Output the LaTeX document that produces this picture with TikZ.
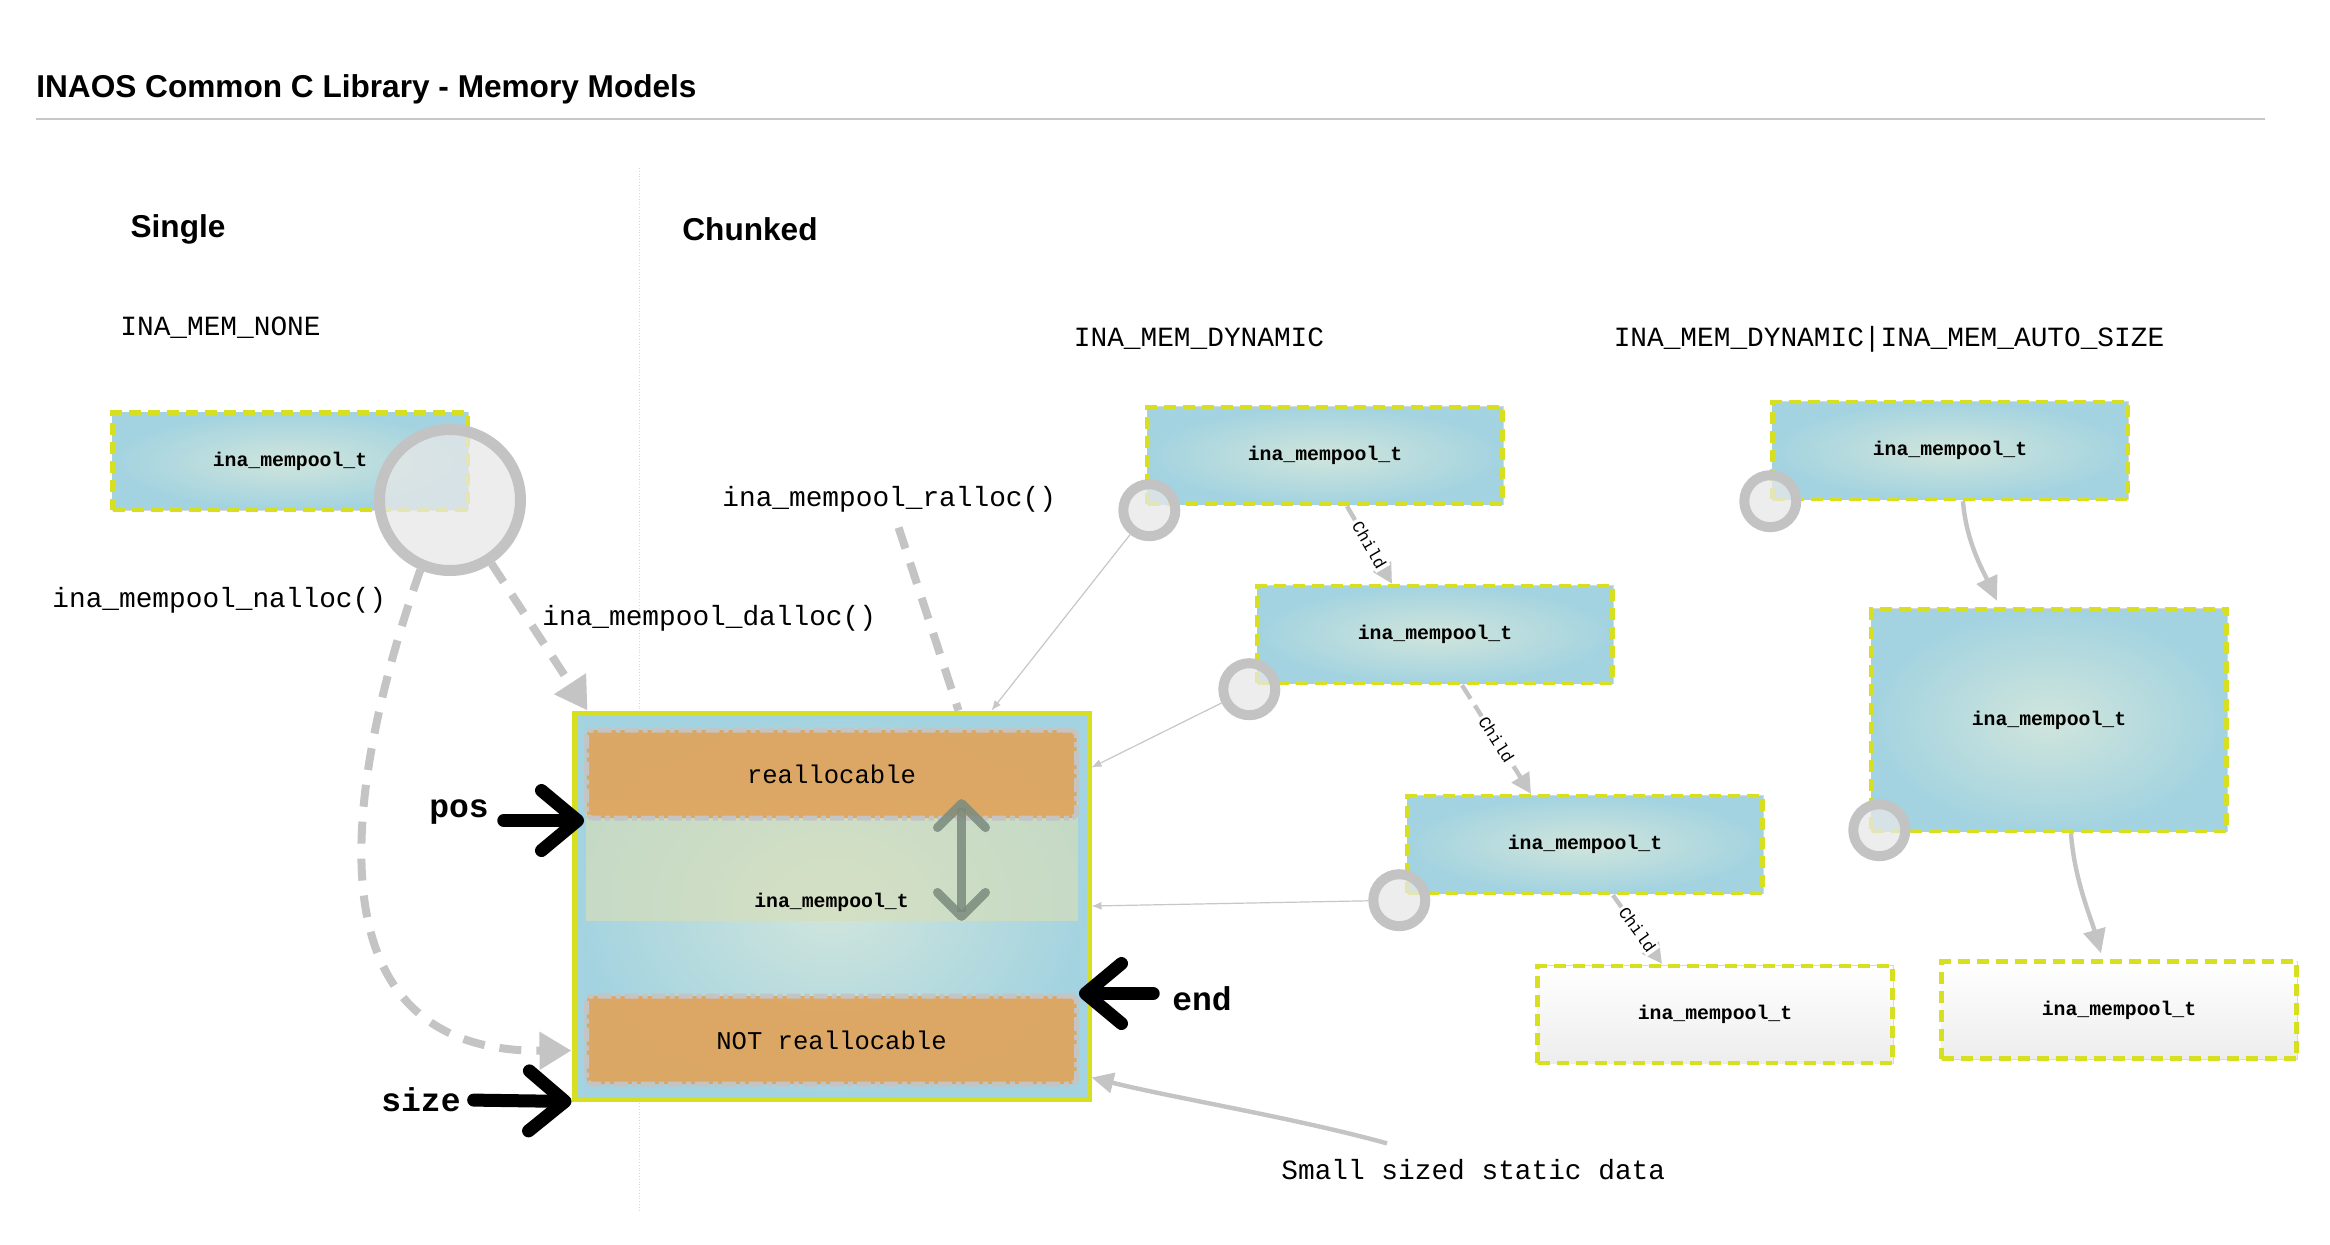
\documentclass[tikz,border=0pt]{standalone}
\usepackage{fontspec}
\setmainfont{Liberation Sans}
\setmonofont{Liberation Mono}
\usepackage{tikz}
\usetikzlibrary{shapes,arrows.meta}

\definecolor{poolblue}{RGB}{163,211,224}
\definecolor{poolcore}{RGB}{208,229,220}
\definecolor{poolyellow}{RGB}{215,223,33}
\definecolor{ringgray}{RGB}{195,195,195}
\definecolor{ringfill}{RGB}{232,232,232}
\definecolor{blockorange}{RGB}{223,165,95}
\definecolor{usedgreen}{RGB}{216,222,184}
\definecolor{arrowgray}{RGB}{196,196,196}
\definecolor{movegray}{RGB}{122,139,126}

\tikzstyle{heading} = [font=\bfseries\fontsize{15.8}{19}\selectfont, inner sep=0pt]
\tikzstyle{calltext} = [font=\ttfamily\fontsize{13.9}{16}\selectfont, inner sep=0pt, anchor=west]
\tikzstyle{ptrtag} = [font=\ttfamily\bfseries\fontsize{16.5}{18}\selectfont]
\tikzstyle{pool} = [rectangle, draw=poolyellow, line width=2.2pt, dash pattern=on 6pt off 3.5pt,
    preaction={draw=black!15, line width=1pt, solid}, inner color=poolcore, outer color=poolblue,
    minimum width=177.5pt, minimum height=48.5pt, inner sep=0pt,
    font=\ttfamily\bfseries\fontsize{9.9}{11}\selectfont]
\tikzstyle{bigpool} = [pool, minimum height=111pt]
\tikzstyle{freepool} = [pool, top color=white, bottom color=black!7]
\tikzstyle{ringnode} = [circle, draw=ringgray, fill=ringfill, fill opacity=0.75,
    line width=5pt, minimum size=26pt, inner sep=0pt]
\tikzstyle{bigring} = [ringnode, line width=5.5pt, minimum size=70.5pt]
\tikzstyle{heapbox} = [rectangle, draw=poolyellow, line width=2.5pt, inner color=poolcore,
    outer color=poolblue, minimum width=257.5pt, minimum height=193pt]
\tikzstyle{usedzone} = [rectangle, fill=usedgreen, fill opacity=0.65,
    minimum width=246pt, minimum height=60.5pt]
\tikzstyle{block} = [rectangle, draw=arrowgray, line width=2.5pt,
    dash pattern=on 7pt off 2pt on 2.5pt off 2pt, rounded corners=3pt, fill=blockorange,
    fill opacity=0.95, text opacity=1, minimum width=245pt, minimum height=44pt,
    font=\ttfamily\fontsize{12.8}{14}\selectfont]
\tikzstyle{callline} = [draw=arrowgray, line width=4pt, dash pattern=on 11pt off 7.5pt,
    -{Triangle[length=16pt,width=18pt]}]
\tikzstyle{childline} = [draw=arrowgray, line width=2.2pt, dash pattern=on 8pt off 4pt,
    -{Triangle[length=10pt,width=10pt]}]
\tikzstyle{childlbl} = [font=\ttfamily\fontsize{8.5}{9}\selectfont, fill=white, inner sep=1pt, sloped]
\tikzstyle{growline} = [draw=arrowgray, line width=2.2pt, -{Triangle[length=12pt,width=11pt]}]
\tikzstyle{staticline} = [draw=arrowgray, line width=2.2pt, -{Triangle[length=11pt,width=10pt]}]
\tikzstyle{linkline} = [draw=black!22, line width=0.6pt, -{Latex[length=5pt,width=4pt]}]
\tikzstyle{ptrline} = [draw, line width=6.5pt, line cap=round,
    -{Straight Barb[length=18pt,width=30pt,round]}]
\tikzstyle{moveline} = [draw=movegray, draw opacity=0.85, line width=4.5pt,
    {Straight Barb[length=12pt,width=24pt,round]}-{Straight Barb[length=12pt,width=24pt,round]}]

\begin{document}
\begin{tikzpicture}[x=0.5pt, y=-0.5pt]
   \fill[white] (0,0) rectangle (2330,1244);
   \useasboundingbox (0,0) rectangle (2330,1244);

   \node [heading, anchor=west] (title) at (36,89) {INAOS Common C Library - Memory Models};
   \draw [black!22, line width=1.3pt] (36,119) -- (2265,119);
   \draw [black!15, densely dotted] (639,168) -- (639,1211);

   \node [heading] (single) at (178,229) {Single};
   \node [heading, anchor=west] (chunked) at (682,229) {Chunked};
   \node [calltext] (none) at (120,328) {INA\_MEM\_NONE};
   \node [calltext, anchor=center] (dyn) at (1199,339) {INA\_MEM\_DYNAMIC};
   \node [calltext, anchor=center] (auto) at (1889,339) {INA\_MEM\_DYNAMIC|INA\_MEM\_AUTO\_SIZE};

   \node [pool] (s0) at (290,461) {ina\_mempool\_t};
   \node [bigring] (c0) at (450,500) {};

   \node [heapbox] (heap) at (831.5,906) {};
   \node [usedzone, above of=heap, node distance=23pt] (used) {};
   \node [font=\ttfamily\bfseries\fontsize{9.9}{11}\selectfont, above] (usedlbl)
      at ([yshift=1pt]used.south) {ina\_mempool\_t};
   \node [block, above of=heap, node distance=66pt] (realloc) {reallocable};
   \node [block, below of=heap, node distance=67pt] (fixed) {NOT reallocable};

   \node [calltext] (nalloc) at (52,600) {ina\_mempool\_nalloc()};
   \node [calltext] (dalloc) at (542,618) {ina\_mempool\_dalloc()};
   \node [calltext] (ralloc) at (722,499) {ina\_mempool\_ralloc()};
   \node [calltext] (ssd) at (1281,1170) {Small sized static data};
   \node [ptrtag] (lblpos) at (459,812) {pos};
   \node [ptrtag] (lblsize) at (421,1100) {size};
   \node [ptrtag] (lblend) at (1202,999) {end};

   \node [pool] (d1) at (1325,455.5) {ina\_mempool\_t};
   \node [pool, below of=d1, node distance=89.5pt, xshift=55pt] (d2) {ina\_mempool\_t};
   \node [pool, below of=d2, node distance=105pt, xshift=75pt] (d3) {ina\_mempool\_t};
   \node [freepool, below of=d3, node distance=85pt, xshift=65pt] (d4) {ina\_mempool\_t};
   \node [pool, right of=d1, node distance=312.5pt, yshift=2.5pt] (a1) {ina\_mempool\_t};
   \node [bigpool, below of=a1, node distance=134.75pt, xshift=49.5pt] (a2) {ina\_mempool\_t};
   \node [freepool, below of=a2, node distance=145pt, xshift=35pt] (a3) {ina\_mempool\_t};

   \node [ringnode] (cd1) at ([xshift=2pt,yshift=-2pt]d1.south west) {};
   \node [ringnode] (cd2) at ([xshift=-3pt,yshift=-2pt]d2.south west) {};
   \node [ringnode] (cd3) at ([xshift=-3pt,yshift=-2.5pt]d3.south west) {};
   \node [ringnode] (ca1) at (a1.south west) {};
   \node [ringnode] (ca2) at ([xshift=5pt,yshift=1.5pt]a2.south west) {};

   \path [callline] (c0) -- ([xshift=8pt]heap.north west);
   \path [callline] (c0.247) .. controls +(-80,228) and +(-262,2) .. ([yshift=25.5pt]heap.south west);
   \path [callline, arrows=-, shorten <=8pt] (ralloc) -- ([xshift=63.5pt]heap.north);

   \path [linkline] (cd1) -- ([xshift=-50pt]heap.north east);
   \path [linkline] (cd2) -- ([yshift=-28.5pt]heap.north east);
   \path [linkline] (cd3) -- (heap.east);

   \path [childline] ([xshift=11pt]d1.south) -- node [childlbl] {Child} ([xshift=-21.5pt]d2.north);
   \path [childline] ([xshift=13.5pt]d2.south) -- node [childlbl] {Child} ([xshift=-27pt]d3.north);
   \path [childline] ([xshift=14pt]d3.south) -- node [childlbl] {Child} ([xshift=-26.5pt]d4.north);

   \path [growline] ([xshift=6.5pt]a1.south) .. controls +(3,40) and +(-14,-30) ..
      ([xshift=-26pt,yshift=3pt]a2.north);
   \path [growline] ([xshift=11pt]a2.south) .. controls +(3,45) and +(-10,-35) ..
      ([xshift=-9pt,yshift=3pt]a3.north);

   \path [staticline] ([xshift=53pt,yshift=8pt]ssd.north west) .. controls +(-90,-25) and +(80,20) ..
      ([yshift=12pt]heap.south east);

   \path [moveline] ([xshift=65pt]used.north) -- ([xshift=65pt]used.south);
   \path [ptrline, shorten <=4pt] (lblpos.east |- realloc.south west) -- (realloc.south west);
   \path [ptrline, shorten <=3pt] (lblsize.east) -- (heap.south west);
   \path [ptrline, shorten <=6pt] (lblend.west |- fixed.north east) -- (fixed.north east);
\end{tikzpicture}
\end{document}
